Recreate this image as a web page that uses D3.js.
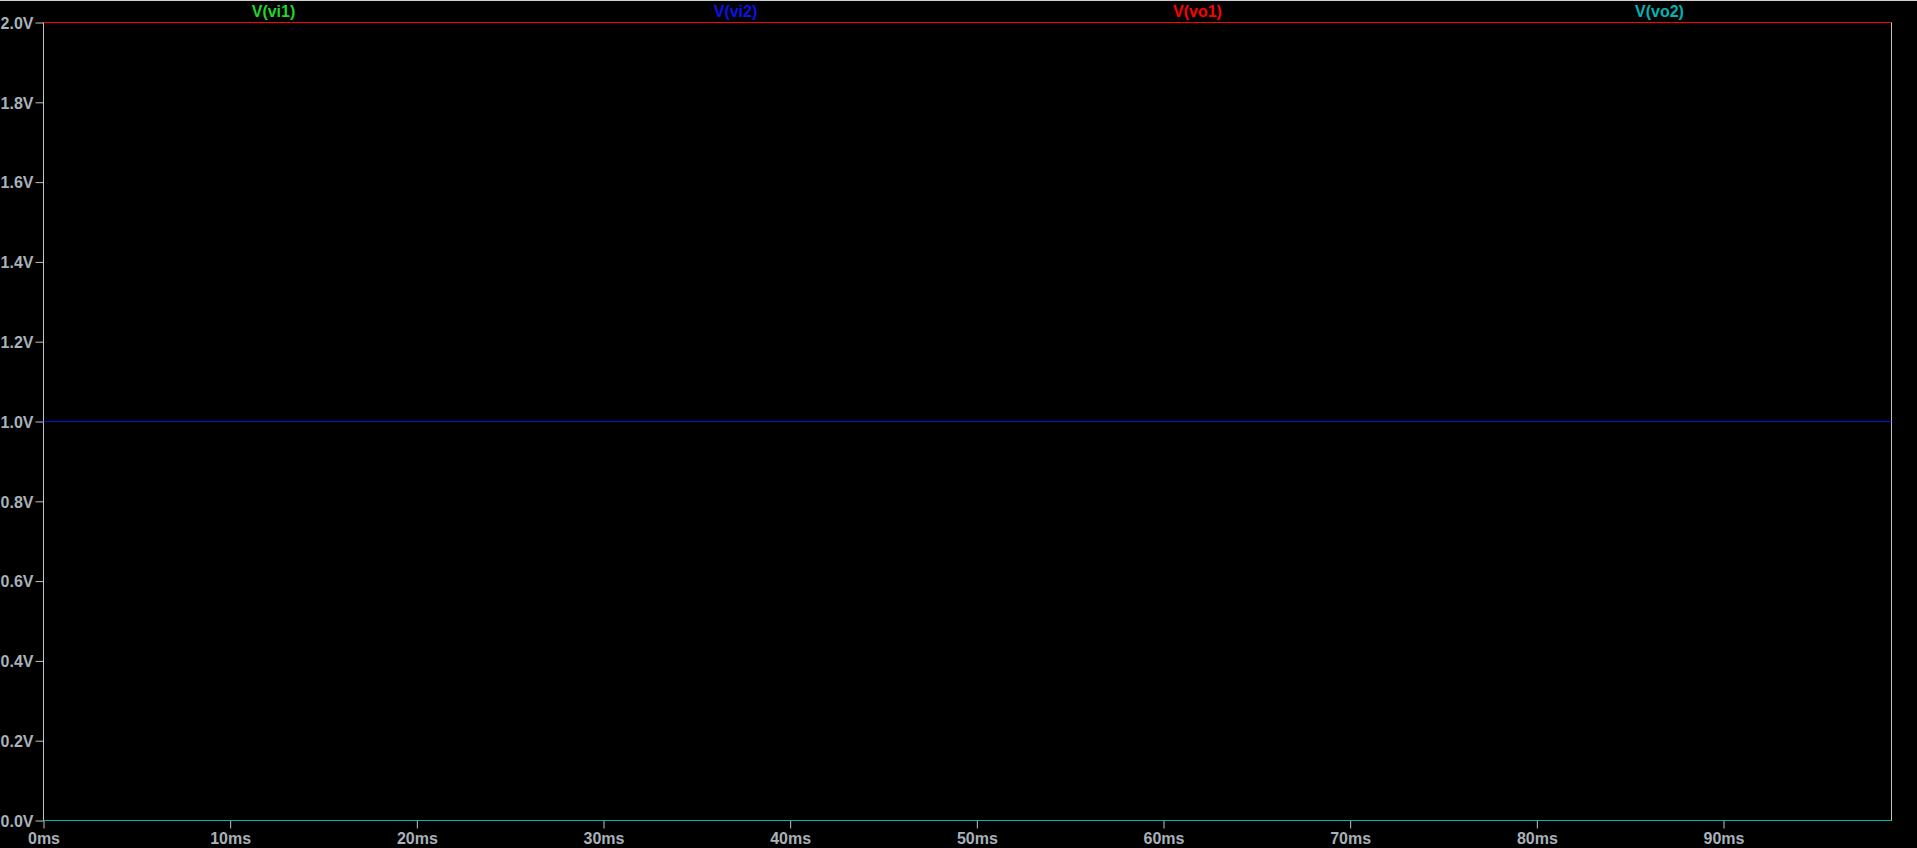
<!DOCTYPE html>
<html>
<head>
<meta charset="utf-8">
<script src="https://cdn.jsdelivr.net/npm/d3@7"></script>
<style>
html,body{margin:0;padding:0;background:#000;overflow:hidden;}
svg{display:block;}
</style>
</head>
<body>
<svg id="chart" width="1917" height="848"></svg>
<script>
// ---- data ----
const timeMs = [0, 99];
const seriesNames = ["V(vi1)", "V(vi2)", "V(vo1)", "V(vo2)"];
const seriesColors = ["#1ed828", "#0a14e6", "#ff0000", "#00b4b4"];
const vi1 = [2.0, 2.0];
const vi2 = [1.0, 1.0];
const vo1 = [2.0, 2.0];
const vo2 = [0.0, 0.0];
const yTicks = [0.0, 0.2, 0.4, 0.6, 0.8, 1.0, 1.2, 1.4, 1.6, 1.8, 2.0];
const xTicks = [0, 10, 20, 30, 40, 50, 60, 70, 80, 90];

const seriesValues = [vi1, vi2, vo1, vo2];

const W = 1917, H = 848;
const plotL = 43.5, plotR = 1891.5, plotT = 22.5, plotB = 820.5;
const axisColor = "#c4c4c4";
const textColor = "#a9b1b9";
const font = "'Liberation Sans', Arial, sans-serif";

const svg = d3.select("#chart");
svg.append("rect").attr("width", W).attr("height", H).attr("fill", "#000");
svg.append("line").attr("x1", 0).attr("x2", W).attr("y1", 0.5).attr("y2", 0.5)
  .attr("stroke", "#d0d0d0").attr("stroke-width", 1);

const x = d3.scaleLinear().domain([0, 99]).range([plotL, plotR]);
const y = d3.scaleLinear().domain([0, 2]).range([plotB, plotT]);

// frame
svg.append("rect").attr("x", plotL).attr("y", plotT)
  .attr("width", plotR - plotL).attr("height", plotB - plotT)
  .attr("fill", "none").attr("stroke", axisColor).attr("stroke-width", 1);

// y axis
const yAxis = svg.append("g").attr("transform", `translate(${plotL},0)`)
  .call(d3.axisLeft(y).tickValues(yTicks).tickSize(8).tickPadding(2)
    .tickFormat(d => d.toFixed(1) + "V"));
yAxis.select(".domain").remove();
yAxis.selectAll("line").attr("stroke", axisColor);
yAxis.selectAll("text").attr("fill", textColor).attr("font-family", font)
  .attr("font-size", 16).attr("font-weight", "bold").attr("dy", "0.36em");

// x axis
const xAxis = svg.append("g").attr("transform", `translate(0,${plotB})`)
  .call(d3.axisBottom(x).tickValues(xTicks).tickSize(8).tickPadding(2)
    .tickFormat(d => d + "ms"));
xAxis.select(".domain").remove();
xAxis.selectAll("line").attr("stroke", axisColor);
xAxis.selectAll("text").attr("fill", textColor).attr("font-family", font)
  .attr("font-size", 16).attr("font-weight", "bold").attr("y", 23).attr("dy", 0);

// traces
const line = d3.line().x(d => x(d[0])).y(d => y(d[1]));
seriesValues.forEach((vals, i) => {
  const pts = timeMs.map((t, k) => [t, vals[k]]);
  svg.append("path").datum(pts).attr("d", line)
    .attr("fill", "none").attr("stroke", seriesColors[i]).attr("stroke-width", 1.2);
});

// trace labels
const lab = d3.scaleBand().domain(seriesNames).range([plotL, plotR]);
svg.selectAll("text.trace").data(seriesNames).enter().append("text")
  .attr("class", "trace")
  .attr("x", d => lab(d) + lab.bandwidth() / 2 - 1)
  .attr("y", 17)
  .attr("text-anchor", "middle")
  .attr("font-family", font).attr("font-size", 16).attr("font-weight", "bold")
  .attr("fill", (d, i) => seriesColors[i])
  .text(d => d);
</script>
</body>
</html>
